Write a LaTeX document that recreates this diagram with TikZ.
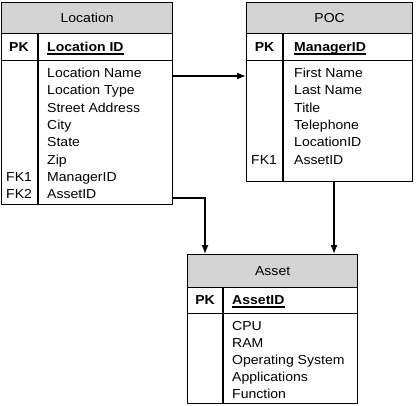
\documentclass[tikz,border=0pt]{standalone}
\usepackage{fontspec}
\setmainfont{Liberation Sans}[FakeStretch=1.08]
\usetikzlibrary{arrows.meta}
\begin{document}
\begin{tikzpicture}[x=1pt,y=-1pt,
  tbl/.style={draw,line width=1.3pt,rectangle,inner sep=0pt,anchor=north west},
  hdr/.style={draw,line width=1.3pt,fill=black!17,rectangle,inner sep=0pt,anchor=north west,font=\fontsize{13}{14}\selectfont},
  pkrow/.style={draw,line width=1.3pt,rectangle,inner sep=0pt,anchor=north west},
  field/.style={inner sep=0pt,anchor=base west,font=\fontsize{13}{14}\selectfont},
  pk/.style={inner sep=0pt,anchor=base,font=\fontsize{13}{14}\selectfont\bfseries},
  key/.style={inner sep=0pt,anchor=base west,font=\fontsize{13}{14}\selectfont\bfseries},
  uline/.style={line width=1.5pt},
  divline/.style={line width=1.3pt},
  arr/.style={line width=1.3pt,-{Latex[length=9pt,width=7pt]}}
]
\useasboundingbox (0,0) rectangle (420,406);

% ---------- Location ----------
\node[tbl,minimum width=171pt,minimum height=202pt] (loc) at (1,2) {};
\node[hdr,minimum width=171pt,minimum height=31pt] (lochd) at (1,2) {Location};
\node[pkrow,minimum width=171pt,minimum height=27pt] (locpk) at (1,33) {};
\coordinate (locdivtop) at (38,33);
\coordinate (locdivbot) at (38,204);
\draw[divline] (locdivtop) -- (locdivbot);
\node[pk] (locpklbl) at (19,51.5) {PK};
\node[key] (lockey) at (47,51.5) {Location ID};
\draw[uline] ([yshift=-2.6pt]lockey.base west) -- ([yshift=-2.6pt]lockey.base east);
\node[field] (l1) at (47,77.7) {Location Name};
\node[field] (l2) at (47,95) {Location Type};
\node[field] (l3) at (47,112.3) {Street Address};
\node[field] (l4) at (47,129.6) {City};
\node[field] (l5) at (47,147) {State};
\node[field] (l6) at (47,164.3) {Zip};
\node[field] (l7) at (47,181.6) {ManagerID};
\node[field] (l8) at (47,199) {AssetID};
\node[field] (lfk1) at (6,181.6) {FK1};
\node[field] (lfk2) at (6,199) {FK2};

% ---------- POC ----------
\node[tbl,minimum width=166pt,minimum height=179pt] (poc) at (246,2) {};
\node[hdr,minimum width=166pt,minimum height=31pt] (pochd) at (246,2) {POC};
\node[pkrow,minimum width=166pt,minimum height=27pt] (pocpk) at (246,33) {};
\coordinate (pocdivtop) at (283,33);
\coordinate (pocdivbot) at (283,181);
\draw[divline] (pocdivtop) -- (pocdivbot);
\node[pk] (pocpklbl) at (264.5,51.5) {PK};
\node[key] (pockey) at (294,51.5) {ManagerID};
\draw[uline] ([yshift=-2.6pt]pockey.base west) -- ([yshift=-2.6pt]pockey.base east);
\node[field] (p1) at (294,77.7) {First Name};
\node[field] (p2) at (294,95) {Last Name};
\node[field] (p3) at (294,112.3) {Title};
\node[field] (p4) at (294,129.6) {Telephone};
\node[field] (p5) at (294,147) {LocationID};
\node[field] (p6) at (294,164.3) {AssetID};
\node[field] (pfk1) at (251,164.3) {FK1};

% ---------- Asset ----------
\node[tbl,minimum width=170pt,minimum height=149pt] (ast) at (187,254) {};
\node[hdr,minimum width=170pt,minimum height=33pt] (asthd) at (187,254) {Asset};
\node[pkrow,minimum width=170pt,minimum height=26pt] (astpk) at (187,287) {};
\coordinate (astdivtop) at (223,287);
\coordinate (astdivbot) at (223,403);
\draw[divline] (astdivtop) -- (astdivbot);
\node[pk] (astpklbl) at (205,304.5) {PK};
\node[key] (astkey) at (232,304.5) {AssetID};
\draw[uline] ([yshift=-2.6pt]astkey.base west) -- ([yshift=-2.6pt]astkey.base east);
\node[field] (a1) at (232,330) {CPU};
\node[field] (a2) at (232,347) {RAM};
\node[field] (a3) at (232,364) {Operating System};
\node[field] (a4) at (232,381) {Applications};
\node[field] (a5) at (232,398) {Function};

% ---------- connectors ----------
\coordinate (c1) at (172,76);
\draw[arr] (c1) -- (c1 -| poc.west);
\coordinate (c2) at (172,198);
\coordinate (c2b) at (205,198);
\draw[arr] (c2) -- (c2b) -- (c2b |- ast.north);
\coordinate (c3) at (334,181);
\draw[arr] (c3) -- (c3 |- ast.north);
\end{tikzpicture}
\end{document}
